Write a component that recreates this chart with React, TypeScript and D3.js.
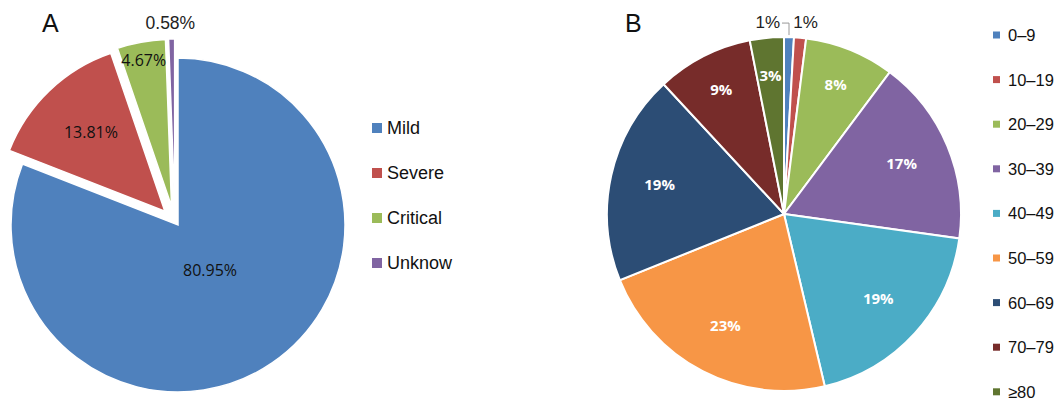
import React from "react";
import * as d3 from "d3";

// panel A: severity
const severityNames = ["Mild", "Severe", "Critical", "Unknow"];
const severityValues = [80.95, 13.81, 4.67, 0.58];
const severityColors = ["#4F81BD", "#C0504D", "#9BBB59", "#8064A2"];

// panel B: age groups
const ageNames = ["0–9", "10–19", "20–29", "30–39", "40–49", "50–59", "60–69", "70–79", "≥80"];
const ageValues = [0.9, 1.1, 8.2, 17.0, 19.1, 22.6, 19.2, 8.8, 3.1];
const ageColors = [
  "#4F81BD",
  "#C0504D",
  "#9BBB59",
  "#8064A2",
  "#4BACC6",
  "#F79646",
  "#2C4D75",
  "#772C2A",
  "#5F7530",
];

const W = 1062;
const H = 409;

const pieGen = d3.pie<number>().sort(null).value((d) => d);

function PanelA() {
  const cx = 178;
  const cy = 225;
  const r = 167;
  const explode = 19;
  const arcs = pieGen(severityValues);
  const arc = d3.arc<d3.PieArcDatum<number>>().innerRadius(0).outerRadius(r);
  const fmt = (v: number) => v.toFixed(2) + "%";

  // label distance depends on slice size (big slices keep labels near centre)
  const labelR = (v: number) => (v > 50 ? 0.34 : v > 10 ? 0.64 : 0.88) * r;

  return (
    <g>
      <text x={42} y={32} fontSize={25} fontFamily="Liberation Sans, Arial" fill="#111">
        A
      </text>
      <g transform={`translate(${cx},${cy})`}>
        {arcs.map((a, i) => {
          const mid = (a.startAngle + a.endAngle) / 2;
          const off = i === 0 ? 0 : explode;
          const dx = Math.sin(mid) * off - (i > 1 ? 3 : 0);
          const dy = -Math.cos(mid) * off;
          return (
            <path
              key={i}
              d={arc(a) || ""}
              transform={`translate(${dx},${dy})`}
              fill={severityColors[i]}
              stroke="#fff"
              strokeWidth={1.5}
            />
          );
        })}
        {arcs.map((a, i) => {
          const mid = (a.startAngle + a.endAngle) / 2;
          const off = i === 0 ? 0 : explode;
          if (a.value < 1) {
            const rr = r + off + 15;
            return (
              <text
                key={i}
                x={Math.sin(mid) * rr - 4}
                y={-Math.cos(mid) * rr}
                textAnchor="middle"
                dominantBaseline="middle"
                fontSize={17.5}
                fontFamily="Liberation Sans, Arial"
                fill="#222"
              >
                {fmt(a.value)}
              </text>
            );
          }
          const lr = labelR(a.value);
          const x = Math.sin(mid) * (lr + off) - (i > 1 ? 4 : 0);
          const y = -Math.cos(mid) * (lr + off);
          return (
            <text
              key={i}
              x={x}
              y={y}
              textAnchor="middle"
              dominantBaseline="middle"
              fontSize={16}
              fontFamily="Open Sans, Noto Sans"
              fill="#111"
            >
              {fmt(a.value)}
            </text>
          );
        })}
      </g>
      <g transform="translate(372,128)">
        {severityNames.map((n, i) => (
          <g key={n} transform={`translate(0,${i * 45})`}>
            <rect x={0} y={-5} width={10} height={10} fill={severityColors[i]} />
            <text
              x={15}
              y={0}
              dominantBaseline="central"
              fontSize={18}
              fontFamily="Liberation Sans, Arial"
              fill="#111"
            >
              {n}
            </text>
          </g>
        ))}
      </g>
    </g>
  );
}

function PanelB() {
  const cx = 784;
  const cy = 214;
  const r = 177;
  const arcs = pieGen(ageValues);
  const arc = d3.arc<d3.PieArcDatum<number>>().innerRadius(0).outerRadius(r);
  const pct = (v: number) => Math.round(v) + "%";

  return (
    <g>
      <text x={625} y={32} fontSize={25} fontFamily="Liberation Sans, Arial" fill="#111">
        B
      </text>
      <g transform={`translate(${cx},${cy})`}>
        {arcs.map((a, i) => (
          <path key={i} d={arc(a) || ""} fill={ageColors[i]} stroke="#fff" strokeWidth={2} />
        ))}
        {arcs.map((a, i) => {
          const mid = (a.startAngle + a.endAngle) / 2;
          if (a.value < 2) {
            // small slices get outside labels
            const sx = Math.sin(mid) * r;
            const sy = -Math.cos(mid) * r;
            const ly = -Math.cos(mid) * (r + 14);
            if (i === 0) {
              return (
                <g key={i}>
                  <path
                    d={`M${sx},${sy - 2}V${ly}H${sx - 7}`}
                    fill="none"
                    stroke="#999"
                    strokeWidth={1}
                  />
                  <text
                    x={sx - 9}
                    y={ly}
                    textAnchor="end"
                    dominantBaseline="middle"
                    fontSize={17}
                    fontFamily="Liberation Sans, Arial"
                    fill="#222"
                  >
                    {pct(a.value)}
                  </text>
                </g>
              );
            }
            return (
              <text
                key={i}
                x={Math.sin(mid) * (r + 17) + 4}
                y={ly}
                textAnchor="middle"
                dominantBaseline="middle"
                fontSize={17}
                fontFamily="Liberation Sans, Arial"
                fill="#222"
              >
                {pct(a.value)}
              </text>
            );
          }
          const lr = r * (a.value < 10 ? 0.78 : 0.72);
          return (
            <text
              key={i}
              x={Math.sin(mid) * lr}
              y={-Math.cos(mid) * lr}
              textAnchor="middle"
              dominantBaseline="middle"
              fontSize={15}
              fontWeight="bold"
              fontFamily="Open Sans, Noto Sans"
              fill="#fff"
            >
              {pct(a.value)}
            </text>
          );
        })}
      </g>
      <g transform="translate(993,35)">
        {ageNames.map((n, i) => (
          <g key={n} transform={`translate(0,${i * 44.6})`}>
            <rect x={0} y={-3.5} width={7} height={7} fill={ageColors[i]} />
            <text
              x={15}
              y={0}
              dominantBaseline="central"
              fontSize={16.5}
              fontFamily="Liberation Sans, Arial"
              fill="#111"
            >
              {n}
            </text>
          </g>
        ))}
      </g>
    </g>
  );
}

export default function App() {
  return (
    <svg
      width={W}
      height={H}
      style={{ position: "absolute", left: 0, top: 0, background: "#fff" }}
    >
      <PanelA />
      <PanelB />
    </svg>
  );
}
